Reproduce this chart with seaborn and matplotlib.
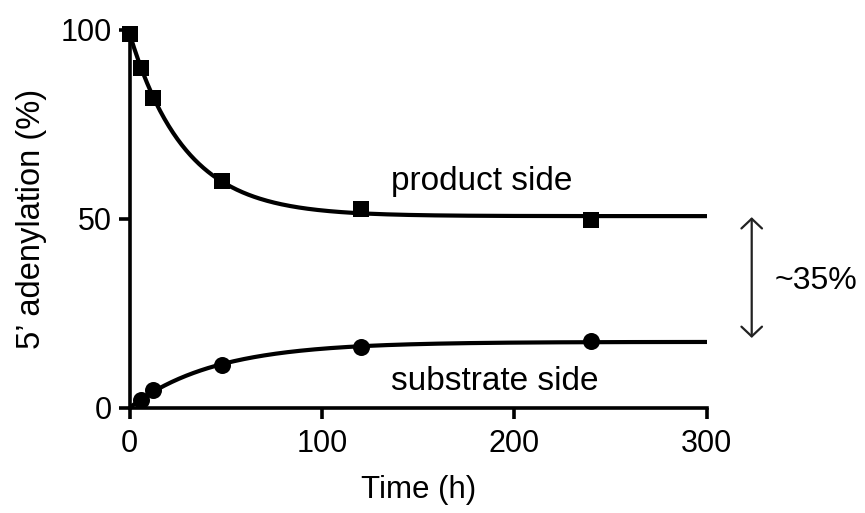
import matplotlib
matplotlib.use("Agg")
import matplotlib.pyplot as plt
import numpy as np
import pandas as pd
import seaborn as sns

# values
product_time = [0, 6, 12, 48, 120, 240]
product_side = [99, 90, 82, 60, 52.5, 49.8]
substrate_time = [6, 12, 48, 120, 240]
substrate_side = [2, 4.8, 11.5, 16.1, 17.6]
gap_label = "~35%"


def fit_one_phase(t, y):
    """Least-squares fit y = plateau + span*exp(-k t), grid over k."""
    t = np.asarray(t, float)
    y = np.asarray(y, float)
    best = None
    for k in np.linspace(0.001, 0.2, 2000):
        A = np.column_stack([np.ones_like(t), np.exp(-k * t)])
        coef, *_ = np.linalg.lstsq(A, y, rcond=None)
        err = np.sum((A @ coef - y) ** 2)
        if best is None or err < best[0]:
            best = (err, k, coef)
    _, k, (plateau, span) = best
    return lambda x: plateau + span * np.exp(-k * x)


sns.set_style("ticks")
plt.rcParams['font.family'] = ['Liberation Sans', 'DejaVu Sans']
plt.rcParams['text.color'] = 'black'
plt.rcParams['axes.labelcolor'] = 'black'
plt.rcParams['xtick.color'] = 'black'
plt.rcParams['ytick.color'] = 'black'
plt.rcParams['axes.edgecolor'] = 'black'

prod_df = pd.DataFrame({'Time': product_time, 'value': product_side})
sub_df = pd.DataFrame({'Time': substrate_time, 'value': substrate_side})
t_fit = np.linspace(0, 300, 400)
fit_df = pd.DataFrame({
    'Time': t_fit,
    'product': fit_one_phase(product_time, product_side)(t_fit),
    # substrate curve starts from 0 at t=0
    'substrate': fit_one_phase([0] + substrate_time, [0] + substrate_side)(t_fit),
})

fig = plt.figure(figsize=(8.65, 5.13), dpi=100)
ax = fig.add_axes([0.150, 0.2047, 0.667, 0.737])

sns.lineplot(data=fit_df, x='Time', y='product', color='black', lw=3.0, ax=ax)
sns.lineplot(data=fit_df, x='Time', y='substrate', color='black', lw=3.0, ax=ax)
sns.scatterplot(data=prod_df, x='Time', y='value', marker='s', s=125, color='black',
                linewidth=0, clip_on=False, zorder=5, ax=ax)
sns.scatterplot(data=sub_df, x='Time', y='value', marker='o', s=150, color='black',
                linewidth=0, clip_on=False, zorder=5, ax=ax)

ax.set_xlim(0, 300)
ax.set_ylim(0, 100)
ax.set_xticks([0, 100, 200, 300])
ax.set_yticks([0, 50, 100])
ax.tick_params(labelsize=22, width=2.6, length=8, direction='out')
ax.tick_params(axis='x', pad=7)
ax.tick_params(axis='y', pad=5)
for side in ['left', 'bottom']:
    ax.spines[side].set_linewidth(2.6)
sns.despine(ax=ax)

ax.set_xlabel('Time (h)', fontsize=22.5, labelpad=12)
ax.set_ylabel('5\u2019 adenylation (%)', fontsize=23.5, labelpad=10)

ax.text(183, 59.8, 'product side', fontsize=24, ha='center', va='center')
ax.text(190, 7.0, 'substrate side', fontsize=24, ha='center', va='center')

ax.annotate('', xy=(323.4, 51.2), xytext=(323.4, 17.8), xycoords='data',
            arrowprops=dict(arrowstyle='<->,head_length=0.35,head_width=0.37',
                            color='#222222', lw=1.6, mutation_scale=20),
            annotation_clip=False)
ax.text(357, 33.5, gap_label, fontsize=23, ha='center', va='center', clip_on=False)

fig.savefig('out.png', dpi=100)
